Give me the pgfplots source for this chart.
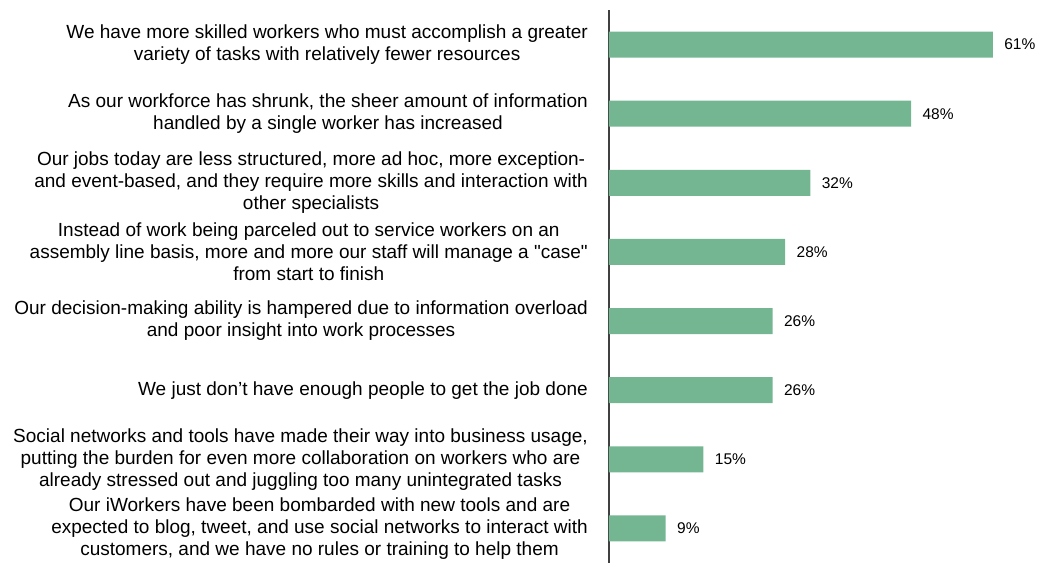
\documentclass[border=0pt]{standalone}
\usepackage{pgfplots}
\pgfplotsset{compat=1.18}
\usepackage{fontspec}
\setmainfont{Liberation Sans}
\newfontfamily\rawf{Liberation Sans}[Ligatures=TeXOff]
\definecolor{barg}{HTML}{74B592}
\definecolor{axg}{HTML}{404040}

\begin{document}
\begin{tikzpicture}
  \begin{axis}[
    scale only axis,
    width=431pt, height=553pt,
    xbar, bar width=26pt,
    xmin=0, xmax=68.5,
    ymin=-0.5, ymax=7.5,
    y dir=reverse,
    axis x line=none,
    axis y line=left,
    y axis line style={-, draw=axg, line width=1.4pt},
    ytick={0,...,7},
    major tick length=0pt,
    yticklabels={
      {We have more skilled workers who must accomplish a greater\\variety of tasks with relatively fewer resources},
      {As our workforce has shrunk, the sheer amount of information\\handled by a single worker has increased},
      {Our jobs today are less structured, more ad hoc, more exception-\\and event-based, and they require more skills and interaction with\\other specialists},
      {Instead of work being parceled out to service workers on an\\assembly line basis, more and more our staff will manage a {\rawf"case"}\\from start to finish},
      {Our decision-making ability is hampered due to information overload\\and poor insight into work processes},
      {We just don’t have enough people to get the job done},
      {Social networks and tools have made their way into business usage,\\putting the burden for even more collaboration on workers who are\\already stressed out and juggling too many unintegrated tasks},
      {Our iWorkers have been bombarded with new tools and are\\expected to blog, tweet, and use social networks to interact with\\customers, and we have no rules or training to help them}
    },
    yticklabel style={align=center, anchor=east, inner sep=0pt, xshift=-21pt,
      font=\fontsize{19}{22}\selectfont},
    clip=false,
    nodes near coords={\pgfmathprintnumber[assume math mode=true]{\pgfplotspointmeta}\%},
    nodes near coords style={anchor=west, xshift=8pt, font=\fontsize{15.5}{18}\selectfont},
  ]
    \addplot[fill=barg, draw=none] coordinates {
      (61,0) (48,1) (32,2) (28,3) (26,4) (26,5) (15,6) (9,7)
    };
  \end{axis}
  \pgfresetboundingbox
  \path ([xshift=-609pt]current axis.south west) rectangle ([yshift=10pt]current axis.north east);
\end{tikzpicture}
\end{document}
